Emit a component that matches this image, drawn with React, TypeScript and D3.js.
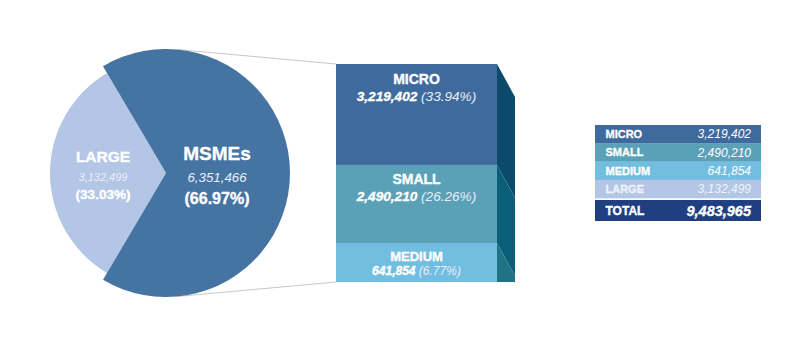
import React from "react";
import * as d3 from "d3";

const segments = ["MICRO", "SMALL", "MEDIUM"];
const segmentValues = [3219402, 2490210, 641854];
const segmentPercents = ["33.94%", "26.26%", "6.77%"];
const pieLabels = ["MSMEs", "LARGE"];
const pieValues = [6351466, 3132499];
const piePercents = ["66.97%", "33.03%"];
const tableLabels = ["MICRO", "SMALL", "MEDIUM", "LARGE"];
const tableValues = [3219402, 2490210, 641854, 3132499];
const totalLabel = "TOTAL";
const totalValue = 9483965;

const W = 811;
const H = 348;
const FONT = "'Liberation Sans', Arial, sans-serif";
const fmt = d3.format(",");

const frontColors = ["#3e6a9d", "#5aa0b7", "#72bee1"];
const sideColors = ["#0c4a6b", "#0a5f78", "#1f7383"];
const tableColors = ["#3e6a9d", "#5aa0b7", "#72bee1", "#b4c6e6"];
const totalColor = "#1f3f80";

const heavy = { stroke: "#ffffff", strokeWidth: 0.35, paintOrder: "stroke" } as const;

export default function App() {
  // Pie geometry
  const cx = 166, cy = 173;
  const rBig = 124, rSmall = 116;
  const largeFrac = pieValues[1] / d3.sum(pieValues);
  const start = -Math.PI / 2 + largeFrac * Math.PI;
  const pie = d3.pie<number>().sort(null).startAngle(start).endAngle(start + 2 * Math.PI);
  const arcsData = pie(pieValues);
  const arcBig = d3.arc<any>().innerRadius(0).outerRadius(rBig);
  const arcSmall = d3.arc<any>().innerRadius(0).outerRadius(rSmall);

  // Bar geometry
  const bx0 = 336, bx1 = 497, depthX = 18, depthY = 33;
  const barTop = 64, barBottom = 282;
  const totalH = barBottom - barTop;
  const minH = 39;
  const segSum = d3.sum(segmentValues);
  const small = segmentValues.map((v) => (v / segSum) * totalH < minH);
  const restSum = d3.sum(segmentValues.filter((_, i) => !small[i]));
  const restH = totalH - minH * small.filter(Boolean).length;
  const hScale = d3.scaleLinear().domain([0, restSum]).range([0, restH]);
  const heights = segmentValues.map((v, i) => (small[i] ? minH : hScale(v)));
  const tops: number[] = [];
  heights.reduce((acc, h) => {
    tops.push(acc);
    return acc + h;
  }, barTop);

  const tangent = (px: number, py: number, sign: number) => {
    const dx = px - cx, dy = py - cy;
    const d = Math.hypot(dx, dy);
    const a = Math.atan2(dy, dx) + sign * Math.acos(rBig / d);
    return [cx + rBig * Math.cos(a), cy + rBig * Math.sin(a)];
  };
  const tTop = tangent(bx0, barTop, -1);
  const tBot = tangent(bx0, barBottom, 1);

  // Table
  const tx0 = 595, tx1 = 761;
  const rowY = d3.scaleBand<string>().domain(tableLabels).range([125, 198]).padding(0);
  const totalY0 = 200, totalY1 = 221;

  return (
    <svg width={W} height={H} style={{ position: "absolute", left: 0, top: 0, fontFamily: FONT }}>
      <defs>
        <radialGradient id="msmeGrad" cx={cx} cy={cy} r={rBig} gradientUnits="userSpaceOnUse">
          <stop offset="0%" stopColor="#2b4b72" />
          <stop offset="55%" stopColor="#38608c" />
          <stop offset="100%" stopColor="#4574a3" />
        </radialGradient>
        <clipPath id="sideClip">
          <rect x={bx1} y={barTop} width={depthX} height={totalH} />
        </clipPath>
      </defs>
      <rect width={W} height={H} fill="#ffffff" />

      <line x1={tTop[0]} y1={tTop[1]} x2={bx0} y2={barTop} stroke="#c6c6c6" strokeWidth={1} />
      <line x1={tBot[0]} y1={tBot[1]} x2={bx0} y2={barBottom} stroke="#c6c6c6" strokeWidth={1} />

      <g transform={`translate(${cx},${cy})`}>
        <path d={arcSmall(arcsData[1]) || ""} fill="#b4c6e6" />
        <path d={arcBig(arcsData[0]) || ""} fill="url(#msmeGrad)" />
        <g fill="#ffffff" textAnchor="middle">
          <text x={-63} y={-11} fontSize={15.5} fontWeight="bold" {...heavy}>{pieLabels[1]}</text>
          <text x={-63} y={8} fontSize={11} fontStyle="italic" fill="#e9eef8">{fmt(pieValues[1])}</text>
          <text x={-63} y={26} fontSize={13.5} fontWeight="bold" {...heavy}>({piePercents[1]})</text>
          <text x={51} y={-13} fontSize={19} fontWeight="bold" {...heavy}>{pieLabels[0]}</text>
          <text x={51} y={9} fontSize={13.3} fontStyle="italic" fill="#e9eef8">{fmt(pieValues[0])}</text>
          <text x={51} y={31} fontSize={16} fontWeight="bold" {...heavy}>({piePercents[0]})</text>
        </g>
      </g>

      <g clipPath="url(#sideClip)">
        {segments.map((s, i) => {
          const y0 = tops[i];
          const y1 = i === segments.length - 1 ? barBottom + depthY : tops[i] + heights[i];
          const pts = [
            [bx1, y0],
            [bx1 + depthX, y0 + depthY],
            [bx1 + depthX, y1 + depthY],
            [bx1, y1],
          ];
          return <polygon key={s} points={pts.map((p) => p.join(",")).join(" ")} fill={sideColors[i]} />;
        })}
      </g>

      {segments.map((s, i) => {
        const y0 = tops[i];
        const h = heights[i];
        const compact = h < 50;
        const mid = (bx0 + bx1) / 2;
        return (
          <g key={s}>
            <rect x={bx0} y={y0} width={bx1 - bx0} height={h} fill={frontColors[i]} />
            <text x={mid} y={y0 + (compact ? 18 : 19.5)} textAnchor="middle" fill="#ffffff" fontWeight="bold" fontSize={compact ? 13 : 14} {...heavy}>
              {s}
            </text>
            <text x={mid} y={y0 + (compact ? 31.5 : 36.5)} textAnchor="middle" fill="#ffffff" fontSize={compact ? 12 : 13.6} fontStyle="italic">
              <tspan fontWeight="bold" {...heavy}>{fmt(segmentValues[i])}</tspan>
              <tspan fill="#e6eef6"> ({segmentPercents[i]})</tspan>
            </text>
          </g>
        );
      })}

      {tableLabels.map((l, i) => {
        const y = rowY(l) as number;
        const bh = rowY.bandwidth();
        const textFill = i === 3 ? "#eef2fa" : "#ffffff";
        return (
          <g key={l}>
            <rect x={tx0} y={y} width={tx1 - tx0} height={bh + 0.3} fill={tableColors[i]} />
            <text x={605.5} y={y + bh / 2 + 4} fill={textFill} fontWeight="bold" fontSize={11} stroke={textFill} strokeWidth={0.3}>{l}</text>
            <text x={751} y={y + bh / 2 + 4.2} fill={textFill} fontStyle="italic" fontSize={12} textAnchor="end">{fmt(tableValues[i])}</text>
          </g>
        );
      })}
      <rect x={tx0} y={totalY0} width={tx1 - tx0} height={totalY1 - totalY0} fill={totalColor} />
      <text x={605.5} y={(totalY0 + totalY1) / 2 + 4.5} fill="#ffffff" fontWeight="bold" fontSize={12} {...heavy}>{totalLabel}</text>
      <text x={751} y={(totalY0 + totalY1) / 2 + 5} fill="#ffffff" fontWeight="bold" fontStyle="italic" fontSize={14.5} textAnchor="end" {...heavy}>{fmt(totalValue)}</text>
    </svg>
  );
}
